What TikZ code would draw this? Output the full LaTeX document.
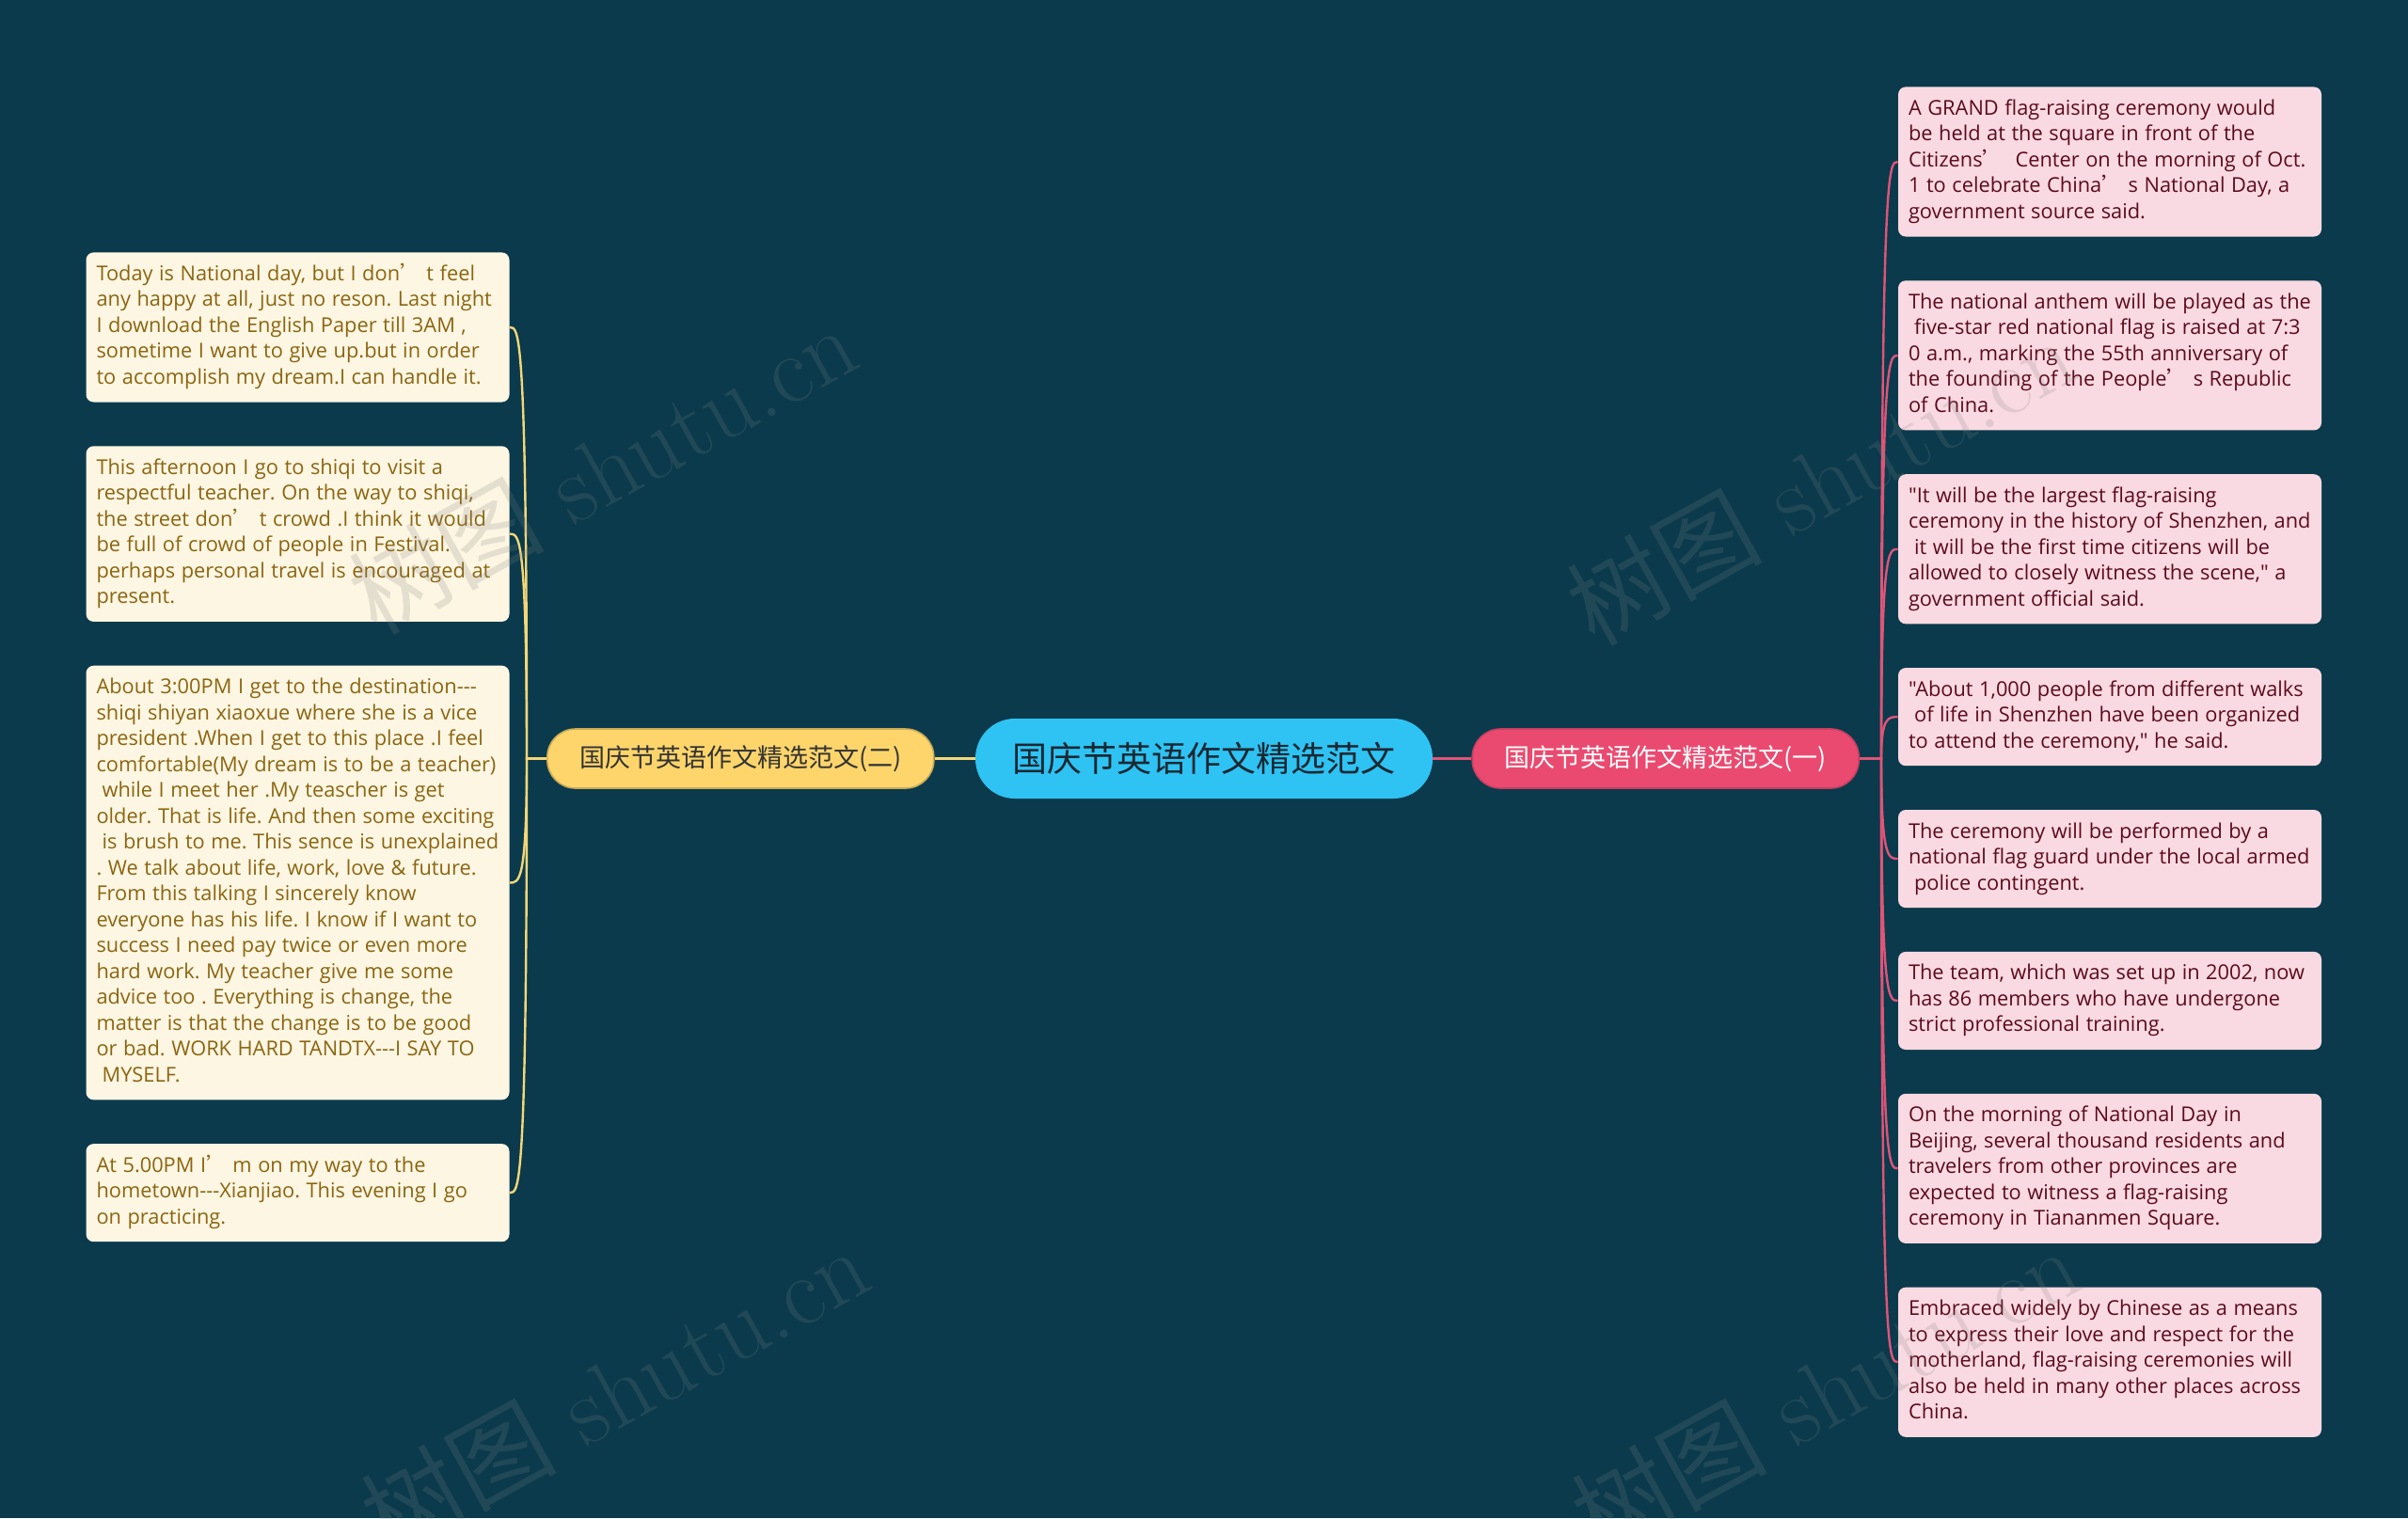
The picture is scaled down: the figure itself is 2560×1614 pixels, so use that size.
\documentclass[tikz,border=0pt]{standalone}
\usepackage{fontspec}
\newfontfamily\cjk{Noto Sans CJK SC}
\font\leaffnt="Open Sans" at 10.9pt
\usetikzlibrary{positioning}

\definecolor{bgteal}{RGB}{10,58,76}
\definecolor{rootblue}{RGB}{46,195,243}
\definecolor{rootink}{RGB}{25,40,50}
\definecolor{leftgold}{RGB}{253,213,107}
\definecolor{rightrose}{RGB}{234,74,112}
\definecolor{leftleaf}{RGB}{253,246,227}
\definecolor{lefttext}{RGB}{139,101,16}
\definecolor{rightleaf}{RGB}{250,218,226}
\definecolor{righttext}{RGB}{92,10,30}
\definecolor{leftwire}{RGB}{245,214,120}
\definecolor{rightwire}{RGB}{224,84,120}

\newcommand{\leaffont}{\fontsize{10.9pt}{13.75pt}\selectfont\leaffnt\frenchspacing\spaceskip=0.3em plus 0.05em minus 0.07em\relax}
\newcommand{\qt}{{\cjk ’}}
\newcommand{\lsp}{\hspace*{0.28em}}
\newcommand{\tri}{\mbox{-}\mbox{-}\mbox{-}}

\begin{document}
\begin{tikzpicture}[
  x=0.5pt, y=-0.5pt,
  node distance=23pt,
  root/.style={fill=rootblue, text=rootink, rounded corners=21pt, minimum width=243pt, minimum height=42.5pt, font=\cjk\fontsize{18.5pt}{22pt}\selectfont},
  branch/.style={rounded corners=15pt, minimum width=205.5pt, minimum height=31.5pt, line width=0.8pt, font=\cjk\fontsize{13.5pt}{16pt}\selectfont},
  leaf/.style={rounded corners=4pt, align=flush left, text width=214pt, inner xsep=5.5pt, inner ysep=5.4pt, font=\leaffont, execute at begin node=\strut, execute at end node=\strut},
  lleaf/.style={leaf, fill=leftleaf, text=lefttext},
  rleaf/.style={leaf, fill=rightleaf, text=righttext},
  twig/.style={line width=1.2pt},
  wmark/.style={text=gray, opacity=0.2, rotate=29, font=\fontsize{52pt}{56pt}\selectfont}
]
  \path[use as bounding box, fill=bgteal] (0,0) rectangle (2560,1614);

  % centre and the two branches
  \node[root] (root) at (1280,806.5) {国庆节英语作文精选范文};
  \node[branch, fill=leftgold, draw=leftgold!80!black, text=black!80, left=21.5pt of root] (lb) {国庆节英语作文精选范文(二)};
  \node[branch, fill=rightrose, draw=rightrose!85!black, text=white, right=20.5pt of root] (rb) {国庆节英语作文精选范文(一)};
  \draw[line width=1.5pt, leftwire] (root.west) -- (lb.east);
  \draw[line width=1.5pt, rightwire] (root.east) -- (rb.west);

  % left leaves
  \node[lleaf, anchor=north] (l1) at (316.5,268) {Today is National day, but I don\qt\ t feel\\any happy at all, just no reson. Last night\\I download the English Paper till 3AM ,\\sometime I want to give up.but in order\\to accomplish my dream.I can handle it.};
  \node[lleaf, below=of l1] (l2) {This afternoon I go to shiqi to visit a\\respectful teacher. On the way to shiqi,\\the street don\qt\ t crowd .I think it would\\be full of crowd of people in Festival.\\perhaps personal travel is encouraged at\\present.};
  \node[lleaf, below=of l2] (l3) {About 3:00PM I get to the destination\tri\\shiqi shiyan xiaoxue where she is a vice\\president .When I get to this place .I feel\\comfortable(My dream is to be a teacher)\\\lsp while I meet her .My teascher is get\\older. That is life. And then some exciting\\\lsp is brush to me. This sence is unexplained\\. We talk about life, work, love \& future.\\From this talking I sincerely know\\everyone has his life. I know if I want to\\success I need pay twice or even more\\hard work. My teacher give me some\\advice too . Everything is change, the\\matter is that the change is to be good\\or bad. WORK HARD TANDTX\tri I SAY TO\\\lsp MYSELF.};
  \node[lleaf, below=of l3] (l4) {At 5.00PM I\qt\ m on my way to the\\hometown\tri Xianjiao. This evening I go\\on practicing.};

  % right leaves
  \node[rleaf, anchor=north] (r1) at (2243,92) {A GRAND flag-raising ceremony would\\be held at the square in front of the\\Citizens\qt\ \ Center on the morning of Oct.\\1 to celebrate China\qt\ s National Day, a\\government source said.};
  \node[rleaf, below=of r1] (r2) {The national anthem will be played as the\\\lsp five-star red national flag is raised at 7:3\\0 a.m., marking the 55th anniversary of\\the founding of the People\qt\ s Republic\\of China.};
  \node[rleaf, below=of r2] (r3) {"It will be the largest flag-raising\\ceremony in the history of Shenzhen, and\\\lsp it will be the first time citizens will be\\allowed to closely witness the scene," a\\government official said.};
  \node[rleaf, below=of r3] (r4) {"About 1,000 people from different walks\\\lsp of life in Shenzhen have been organized\\to attend the ceremony," he said.};
  \node[rleaf, below=of r4] (r5) {The ceremony will be performed by a\\national flag guard under the local armed\\\lsp police contingent.};
  \node[rleaf, below=of r5] (r6) {The team, which was set up in 2002, now\\has 86 members who have undergone\\strict professional training.};
  \node[rleaf, below=of r6] (r7) {On the morning of National Day in\\Beijing, several thousand residents and\\travelers from other provinces are\\expected to witness a flag-raising\\ceremony in Tiananmen Square.};
  \node[rleaf, below=of r7] (r8) {Embraced widely by Chinese as a means\\to express their love and respect for the\\motherland, flag-raising ceremonies will\\also be held in many other places across\\China.};

  % curved links to the leaves
  \coordinate (lhub) at (560,806.5);
  \coordinate (rhub) at (2000,806.5);
  \foreach \leafname in {l1,l2,l3,l4}
    \draw[twig, leftwire] (lb.west) -- (lhub) .. controls (lhub |- \leafname.east) and ([xshift=5pt]\leafname.east) .. (\leafname.east);
  \foreach \leafname in {r1,r2,r3,r4,r5,r6,r7,r8}
    \draw[twig, rightwire] (rb.east) -- (rhub) .. controls (rhub |- \leafname.west) and ([xshift=-5pt]\leafname.west) .. (\leafname.west);

  % watermarks
  \node[wmark] (wm1) at (640,498) {{\cjk 树图} shutu.cn};
  \node[wmark] (wm2) at (1935,510) {{\cjk 树图} shutu.cn};
  \node[wmark] (wm3) at (653,1478) {{\cjk 树图} shutu.cn};
  \node[wmark] (wm4) at (1940,1478) {{\cjk 树图} shutu.cn};
\end{tikzpicture}
\end{document}
